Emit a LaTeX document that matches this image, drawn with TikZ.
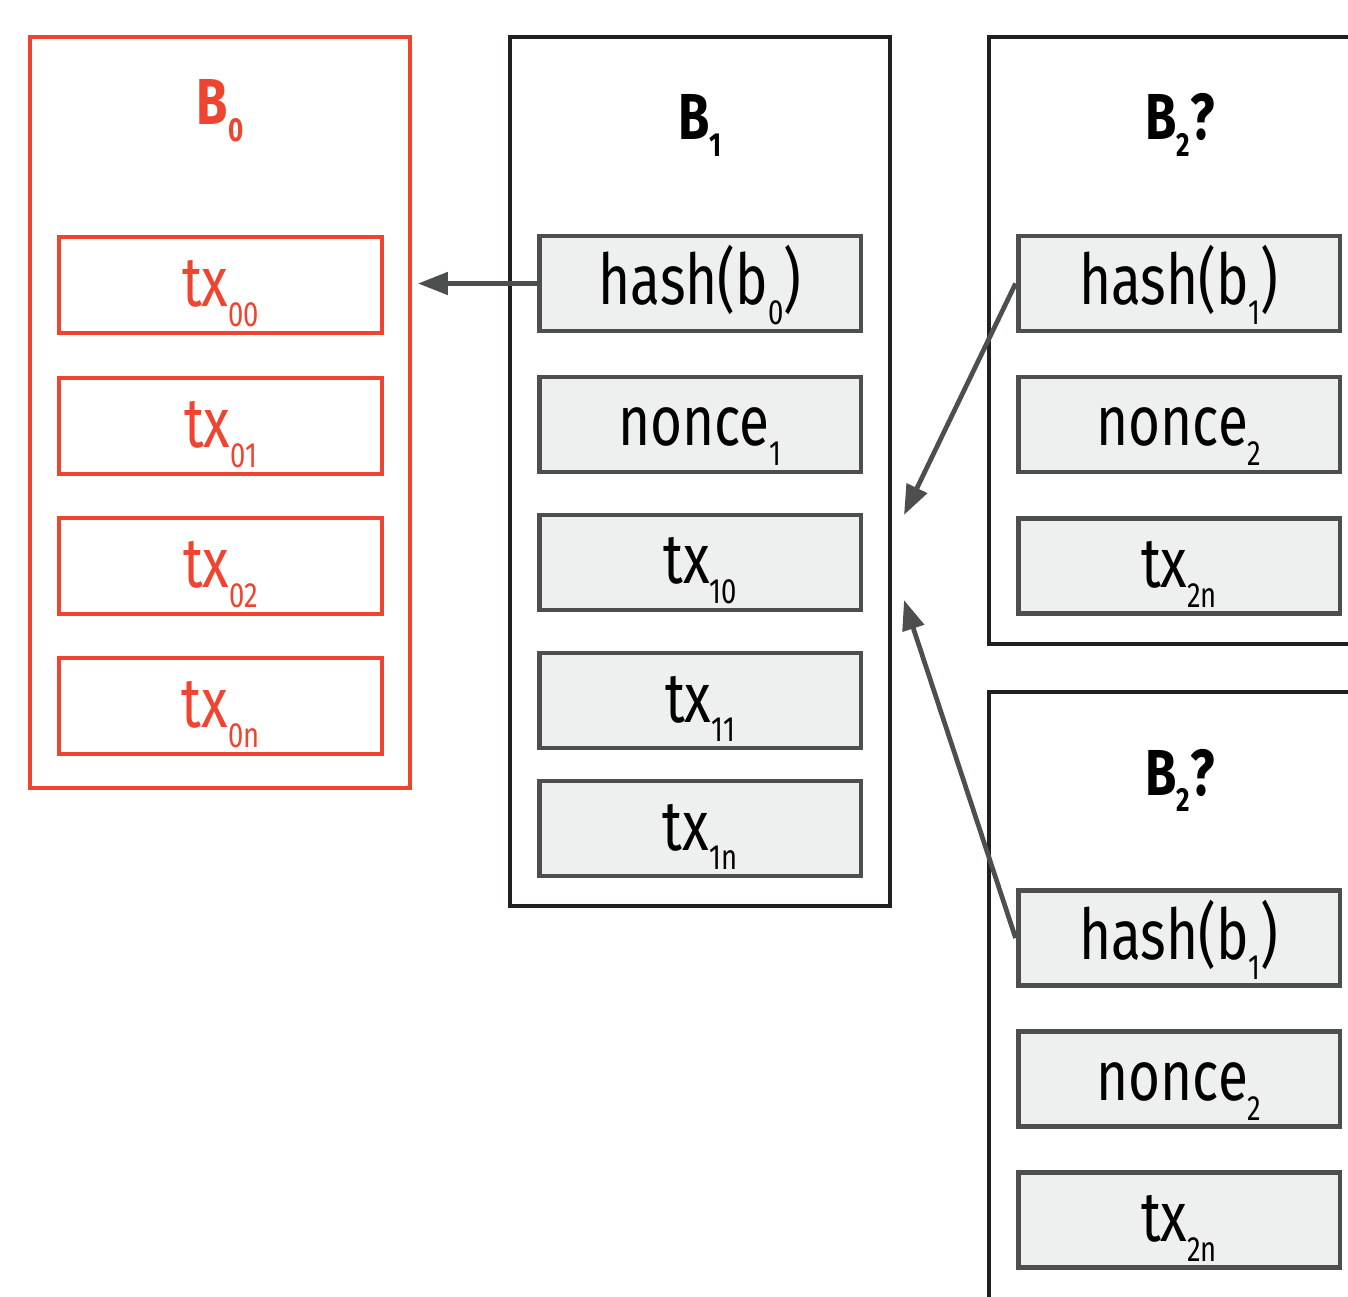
\documentclass[tikz,border=0pt]{standalone}
\usepackage{fontspec}
\newfontfamily\cf[FakeStretch=0.78]{Fira Sans}
\usetikzlibrary{arrows.meta}
\definecolor{redc}{HTML}{EE4430}
\definecolor{blk}{HTML}{231F20}
\definecolor{gry}{HTML}{4D4F4F}
\definecolor{gfill}{HTML}{EEF0EF}
\newcommand\sbs[1]{\raisebox{-0.28em}{\fontsize{20}{20}\selectfont #1}}
\newcommand\tsb[1]{\raisebox{-0.26em}{\fontsize{19}{19}\selectfont\bfseries #1}}
\tikzset{
  outerred/.style={draw=redc, line width=2.7pt, inner sep=0pt},
  outerblk/.style={draw=blk, line width=2.7pt, inner sep=0pt},
  boxtext/.style={font=\cf\fontsize{40}{40}\selectfont, text height=0.86cm, text depth=0cm, inner sep=0pt},
  redtx/.style={boxtext, draw=redc, line width=2.7pt, fill=white, text=redc, minimum width=6.46cm, minimum height=1.92cm},
  graybox/.style={boxtext, draw=gry, fill=gfill, line width=2.8pt, text=black, minimum width=6.44cm, minimum height=1.9cm},
  title/.style={font=\cf\bfseries\fontsize{37}{37}\selectfont, anchor=base, inner sep=0pt},
  arr/.style={draw=gry, line width=2.7pt, -{Triangle[length=17pt,width=12.5pt]}}
}
\begin{document}
\begin{tikzpicture}[x=0.02cm,y=-0.02cm]
\useasboundingbox (0,0) rectangle (1348,1297);
\begin{scope}
\clip (0,0) rectangle (1348,1297);
% outer blocks
\node[outerred, minimum width=7.6cm, minimum height=15.02cm] (b0) at (220,412.5) {};
\node[outerblk, minimum width=7.6cm, minimum height=17.38cm] (b1) at (700,471.5) {};
\node[outerblk, minimum width=8.22cm, minimum height=12.14cm] (b2a) at (1194.5,340.5) {};
\node[outerblk, minimum width=8.22cm, minimum height=14.16cm] (b2b) at (1194.5,1046) {};
% titles
\node[title, text=redc] (tb0) at (220,125) {B\tsb{0}};
\node[title] (tb1) at (700,140) {B\tsb{1}};
\node[title] (tb2a) at (1180,140) {B\tsb{2}?};
\node[title] (tb2b) at (1180,795) {B\tsb{2}?};
% B0 transactions
\node[redtx] (tx00) at (220.5,285) {tx\sbs{00}};
\node[redtx] (tx01) at (220.5,426) {tx\sbs{01}};
\node[redtx] (tx02) at (220.5,566) {tx\sbs{02}};
\node[redtx] (tx0n) at (220.5,706) {tx\sbs{0n}};
% B1 contents
\node[graybox] (h0) at (700,283.5) {hash(b\sbs{0})};
\node[graybox] (n1) at (700,424.5) {nonce\sbs{1}};
\node[graybox] (tx10) at (700,562.5) {tx\sbs{10}};
\node[graybox] (tx11) at (700,700.5) {tx\sbs{11}};
\node[graybox] (tx1n) at (700,828.5) {tx\sbs{1n}};
% B2 (top) contents
\node[graybox] (h1a) at (1179,283.5) {hash(b\sbs{1})};
\node[graybox] (n2a) at (1179,424.5) {nonce\sbs{2}};
\node[graybox] (tx2a) at (1179,566) {tx\sbs{2n}};
% B2 (bottom) contents
\node[graybox] (h1b) at (1179,938) {hash(b\sbs{1})};
\node[graybox] (n2b) at (1179,1079) {nonce\sbs{2}};
\node[graybox] (tx2b) at (1179,1220) {tx\sbs{2n}};
% connectors
\coordinate (t1) at (904,515);
\coordinate (t2) at (904,600);
\draw[arr, shorten >=3.2pt] (h0.west) -- (h0.west -| b0.east);
\draw[arr] (h1a.west) -- (t1);
\draw[arr] (h1b.west) -- (t2);
\end{scope}
\end{tikzpicture}
\end{document}
